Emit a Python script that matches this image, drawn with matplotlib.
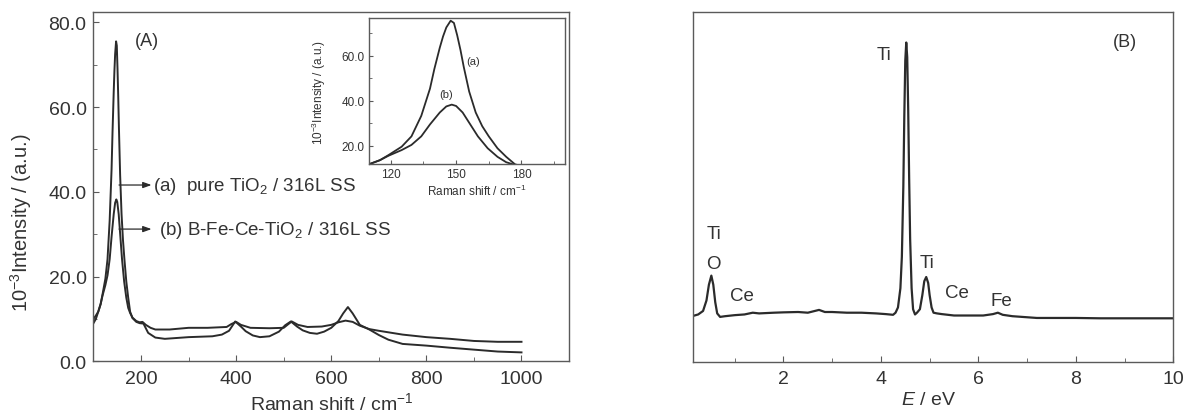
import matplotlib
matplotlib.use("Agg")
import matplotlib.pyplot as plt
from matplotlib.ticker import MultipleLocator, FixedLocator, FormatStrFormatter

plt.rcParams['font.family'] = ['Liberation Sans', 'DejaVu Sans']
plt.rcParams['mathtext.fontset'] = 'custom'
plt.rcParams['mathtext.rm'] = 'Liberation Sans'
plt.rcParams['mathtext.it'] = 'Liberation Sans:italic'
plt.rcParams['mathtext.bf'] = 'Liberation Sans:bold'

# ---------------- Panel A: Raman spectra ----------------
raman_a_x = [100, 105, 110, 115, 119, 125, 129.5, 134, 138, 140, 142.5, 144, 145.5, 147.5,
             149, 150.5, 152, 153.5, 156, 159, 162, 165, 169, 173, 177, 182, 190, 197, 205,
             210, 215, 230, 250, 300, 350, 370, 385, 398, 410, 420, 435, 450, 470, 490, 503,
             515, 528, 540, 555, 570, 585, 600, 615, 625, 635, 645, 660, 680, 700, 720, 750,
             800, 850, 900, 950, 1000]
raman_a_y = [9.0, 10.0, 11.7, 13.5, 15.8, 19.5, 24.1, 33.2, 45.3, 54.0, 63.5, 68.5, 72.5, 75.5,
             74.5, 69.0, 62.5, 55.0, 44.0, 34.7, 28.6, 24.1, 18.8, 15.0, 11.7, 10.2, 9.3, 9.0, 8.9,
             7.8, 6.7, 5.6, 5.3, 5.7, 5.9, 6.3, 7.2, 9.4, 8.2, 7.1, 6.1, 5.7, 5.9, 7.0, 8.5,
             9.4, 8.2, 7.3, 6.7, 6.5, 7.0, 7.9, 9.5, 11.3, 12.8, 11.3, 8.6, 7.5, 6.2, 5.1, 4.1,
             3.7, 3.2, 2.75, 2.3, 2.1]

raman_b_x = [100, 105, 110, 115, 119, 125, 129.5, 134, 138, 142.5, 145.5, 148, 150,
             153, 156.5, 160, 164.5, 169, 173, 177, 182, 190, 197, 203, 210, 220, 230,
             260, 300, 340, 380, 390, 400, 410, 430, 470, 500, 510, 517, 530, 550, 580,
             600, 615, 630, 645, 660, 680, 700, 750, 800, 850, 900, 950, 1000]
raman_b_y = [10.0, 10.8, 11.7, 13.5, 15.5, 18.0, 20.3, 24.1, 29.4, 34.7, 37.4, 38.2, 37.6,
             34.7, 29.4, 24.1, 18.8, 15.0, 12.6, 11.4, 10.3, 9.5, 9.2, 9.3, 8.6, 7.9, 7.5,
             7.5, 7.9, 7.9, 8.1, 8.8, 9.3, 8.6, 7.9, 7.8, 7.9, 8.8, 9.4, 8.6, 8.1, 8.2,
             8.6, 9.2, 9.6, 9.3, 8.4, 7.6, 7.2, 6.3, 5.7, 5.3, 4.8, 4.6, 4.6]

label_a = "(a)  pure TiO$_2$ / 316L SS"
label_b = "(b) B-Fe-Ce-TiO$_2$ / 316L SS"

# ---------------- Panel B: EDS spectrum ----------------
eds_x = [0.15, 0.25, 0.35, 0.42, 0.47, 0.52, 0.56, 0.60, 0.64, 0.70, 0.80, 1.0, 1.2, 1.37,
         1.5, 1.8, 2.0, 2.3, 2.5, 2.73, 2.85, 3.0, 3.3, 3.6, 3.9, 4.1, 4.25,
         4.30, 4.35, 4.40, 4.43, 4.46, 4.48, 4.50, 4.52, 4.54, 4.56, 4.58, 4.60, 4.63,
         4.66, 4.70, 4.74, 4.80, 4.85, 4.89, 4.93, 4.97, 5.00, 5.04, 5.08, 5.15, 5.25,
         5.5, 5.8, 6.1, 6.3, 6.4, 6.5, 6.7, 7.0, 7.2, 7.5, 8.0, 8.5, 9.0, 9.5, 10.0]
eds_y = [13.1, 13.5, 14.5, 17.5, 22.0, 24.6, 22.0, 17.0, 13.8, 12.8, 13.0, 13.3, 13.5, 14.0,
         13.8, 14.0, 14.1, 14.2, 14.0, 14.8, 14.2, 14.2, 14.0, 14.0, 13.8, 13.6, 13.4,
         14.0, 15.5, 21.0, 30.0, 50.0, 70.0, 86.0, 91.2, 87.0, 72.0, 52.0, 35.0, 21.0,
         15.0, 13.5, 14.0, 15.0, 19.0, 23.0, 24.2, 22.5, 19.0, 15.5, 14.0, 13.8, 13.6,
         13.2, 13.2, 13.2, 13.6, 14.0, 13.4, 13.0, 12.7, 12.5, 12.5, 12.5, 12.4, 12.4, 12.4, 12.4]

eds_labels = ["Ti", "O", "Ce", "Ti", "Ti", "Ce", "Fe"]
eds_label_x = [0.57, 0.56, 1.15, 4.07, 4.94, 5.57, 6.47]
eds_label_y = [36.5, 28.1, 18.9, 87.9, 28.4, 19.8, 17.6]

LINE = '#2b2b2b'
SPINE = '#5a5a5a'
TXT = '#333333'

fig = plt.figure(figsize=(11.88, 4.14), dpi=100)
fig.patch.set_facecolor('white')

def style_axes(ax, size, pad, length=4):
    for s in ax.spines.values():
        s.set_color(SPINE)
        s.set_linewidth(1.0)
    ax.tick_params(which='both', direction='in', colors=SPINE, labelcolor=TXT,
                   labelsize=size, pad=pad, top=False, right=False)
    ax.tick_params(which='major', length=length)
    ax.tick_params(which='minor', length=length * 0.7)

# Panel A
axA = fig.add_axes([0.0787, 0.1249, 0.4003, 0.8444])
axA.plot(raman_a_x, raman_a_y, color=LINE, lw=1.4)
axA.plot(raman_b_x, raman_b_y, color=LINE, lw=1.4)
axA.set_xlim(100, 1100)
axA.set_ylim(0, 82.5)
axA.xaxis.set_major_locator(FixedLocator([200, 400, 600, 800, 1000]))
axA.xaxis.set_minor_locator(FixedLocator([300, 500, 700, 900]))
axA.yaxis.set_major_locator(MultipleLocator(20))
axA.yaxis.set_minor_locator(MultipleLocator(10))
axA.yaxis.set_major_formatter(FormatStrFormatter('%.1f'))
style_axes(axA, 14, 6)
axA.tick_params(axis='y', pad=5)
axA.set_xlabel("Raman shift / cm$^{-1}$", fontsize=14, color=TXT)
axA.xaxis.set_label_coords(0.5, -0.085)
axA.set_ylabel("10$^{-3}$Intensity / (a.u.)", fontsize=14.5, color=TXT)
axA.yaxis.set_label_coords(-0.125, 0.40)
axA.text(212, 75.6, "(A)", fontsize=13, color=TXT, ha='center', va='center')

arrow_kw = dict(arrowstyle='-|>,head_length=0.5,head_width=0.18', color=LINE, lw=0.9,
                shrinkA=0, shrinkB=0)
axA.annotate('', xy=(222, 41.6), xytext=(153.7, 41.6), arrowprops=arrow_kw)
axA.annotate('', xy=(222, 31.2), xytext=(153.7, 31.2), arrowprops=arrow_kw)
axA.text(226, 41.6, label_a, fontsize=13.5, color=TXT, ha='left', va='center')
axA.text(238, 31.2, label_b, fontsize=13.5, color=TXT, ha='left', va='center')

# Inset
axI = fig.add_axes([0.3106, 0.6014, 0.165, 0.3527])
axI.plot(raman_a_x, raman_a_y, color=LINE, lw=1.3)
axI.plot(raman_b_x, raman_b_y, color=LINE, lw=1.3)
axI.set_xlim(110, 200)
axI.set_ylim(11.8, 76.7)
axI.xaxis.set_major_locator(FixedLocator([120, 150, 180]))
axI.xaxis.set_minor_locator(FixedLocator([135, 165, 195]))
axI.yaxis.set_major_locator(FixedLocator([20, 40, 60]))
axI.yaxis.set_minor_locator(FixedLocator([30, 50, 70]))
axI.yaxis.set_major_formatter(FormatStrFormatter('%.1f'))
style_axes(axI, 8.5, 3, length=3)
axI.set_xlabel("Raman shift / cm$^{-1}$", fontsize=8.5, color=TXT)
axI.xaxis.set_label_coords(0.55, -0.13)
axI.set_ylabel("10$^{-3}$Intensity / (a.u.)", fontsize=8.5, color=TXT)
axI.yaxis.set_label_coords(-0.21, 0.5)
axI.text(157.6, 57.4, "(a)", fontsize=8, color=TXT, ha='center', va='center')
axI.text(145.6, 42.7, "(b)", fontsize=8, color=TXT, ha='center', va='center')

# Panel B
axB = fig.add_axes([0.5836, 0.1239, 0.4040, 0.8454])
axB.plot(eds_x, eds_y, color=LINE, lw=1.6)
axB.set_xlim(0.15, 10)
axB.set_ylim(0, 100)
axB.xaxis.set_major_locator(FixedLocator([2, 4, 6, 8, 10]))
axB.xaxis.set_minor_locator(FixedLocator([1, 3, 5, 7, 9]))
axB.set_yticks([])
style_axes(axB, 14, 6)
axB.set_xlabel("$E$ / eV", fontsize=14, color=TXT)
axB.xaxis.set_label_coords(0.49, -0.085)
for lab, lx, ly in zip(eds_labels, eds_label_x, eds_label_y):
    axB.text(lx, ly, lab, fontsize=13.5, color=TXT, ha='center', va='center')
axB.text(9.0, 91.4, "(B)", fontsize=13, color=TXT, ha='center', va='center')

fig.savefig("out.png", dpi=100, facecolor='white')
